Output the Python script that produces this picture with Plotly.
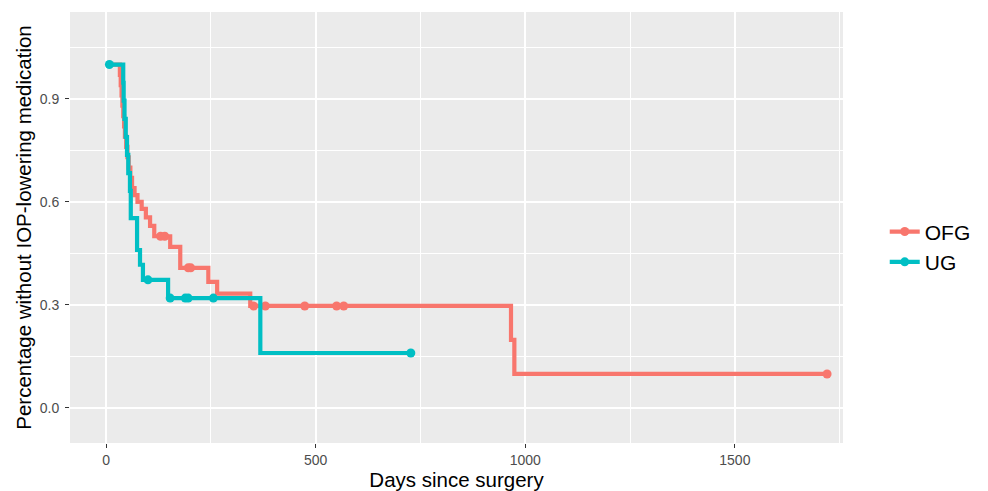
import plotly.graph_objects as go
import numpy as np

# OFG group: Kaplan-Meier step times (days) and survival after each step
ofg_time = [0, 33, 35, 37, 39, 41, 43, 45, 48, 51, 54, 58, 62, 68, 75, 85, 95, 105, 115,
            153, 177, 244, 265, 344, 966, 974, 1720]
ofg_surv = [1.0, 0.97, 0.94, 0.91, 0.88, 0.85, 0.82, 0.79, 0.76, 0.73, 0.70, 0.67, 0.64,
            0.62, 0.60, 0.58, 0.555, 0.53, 0.50, 0.469, 0.408, 0.367, 0.333, 0.297, 0.198,
            0.099, 0.099]
ofg_censor = [130, 140, 196, 202, 352, 380, 474, 550, 567, 1720]

# UG group
ug_time = [0, 41, 42, 44, 47, 50, 53, 57, 59, 74, 81, 88, 148, 368, 727]
ug_surv = [1.0, 0.947, 0.895, 0.842, 0.789, 0.737, 0.684, 0.632, 0.553, 0.46, 0.417,
           0.373, 0.32, 0.16, 0.16]
ug_censor = [8, 100, 153, 189, 196, 256, 727]

groups = ["OFG", "UG"]
colors = {"OFG": "#F8766D", "UG": "#00BFC4"}

x_ticks = [0, 500, 1000, 1500]
y_ticks = [0.0, 0.3, 0.6, 0.9]


def surv_at(times, survs, t):
    idx = np.searchsorted(np.array(times), t, side="right") - 1
    return survs[max(idx, 0)]


fig = go.Figure()
series = {"OFG": (ofg_time, ofg_surv, ofg_censor), "UG": (ug_time, ug_surv, ug_censor)}
for g in groups:
    t, s, c = series[g]
    col = colors[g]
    fig.add_trace(go.Scatter(x=t, y=s, mode="lines", line=dict(color=col, width=4.2, shape="hv"),
                             showlegend=False, hoverinfo="skip"))
    fig.add_trace(go.Scatter(x=c, y=[surv_at(t, s, ci) for ci in c], mode="markers",
                             marker=dict(color=col, size=9), showlegend=False))
    fig.add_trace(go.Scatter(x=[None], y=[None], mode="lines+markers", name=g,
                             line=dict(color=col, width=4.2),
                             marker=dict(color=col, size=9)))

fig.update_layout(
    width=988, height=491,
    margin=dict(l=70, r=145, t=12, b=48),
    paper_bgcolor="white",
    plot_bgcolor="#EBEBEB",
    font=dict(family="Liberation Sans, Arial, sans-serif", color="#000000"),
    legend=dict(x=1.054, y=0.455, xanchor="left", yanchor="middle",
                font=dict(size=21, color="#000000"), bgcolor="rgba(0,0,0,0)",
                tracegroupgap=0, itemwidth=30),
    xaxis=dict(
        range=[-86, 1758], tickvals=x_ticks, ticktext=[str(v) for v in x_ticks],
        showgrid=True, gridcolor="white", gridwidth=1.6,
        minor=dict(tickvals=[250, 750, 1250, 1750], showgrid=True, gridcolor="white", gridwidth=0.7),
        zeroline=False, ticks="outside", ticklen=4, tickwidth=1.2, tickcolor="#333333",
        tickfont=dict(size=14, color="#4D4D4D"),
        title=dict(text="Days since surgery", font=dict(size=20.5, color="#000000"), standoff=0),
        showline=False, automargin=False,
    ),
    yaxis=dict(
        range=[-0.102, 1.153], tickvals=y_ticks, ticktext=["%.1f" % v for v in y_ticks],
        showgrid=True, gridcolor="white", gridwidth=1.6,
        minor=dict(tickvals=[0.15, 0.45, 0.75, 1.05], showgrid=True, gridcolor="white", gridwidth=0.7),
        zeroline=False, ticks="outside", ticklen=4, tickwidth=1.2, tickcolor="#333333",
        tickfont=dict(size=14, color="#4D4D4D"), ticklabelstandoff=3,
        title=dict(text="Percentage without IOP-lowering medication", font=dict(size=20.5, color="#000000"), standoff=2),
        showline=False, automargin=False,
    ),
)

fig.write_html("out.html")
